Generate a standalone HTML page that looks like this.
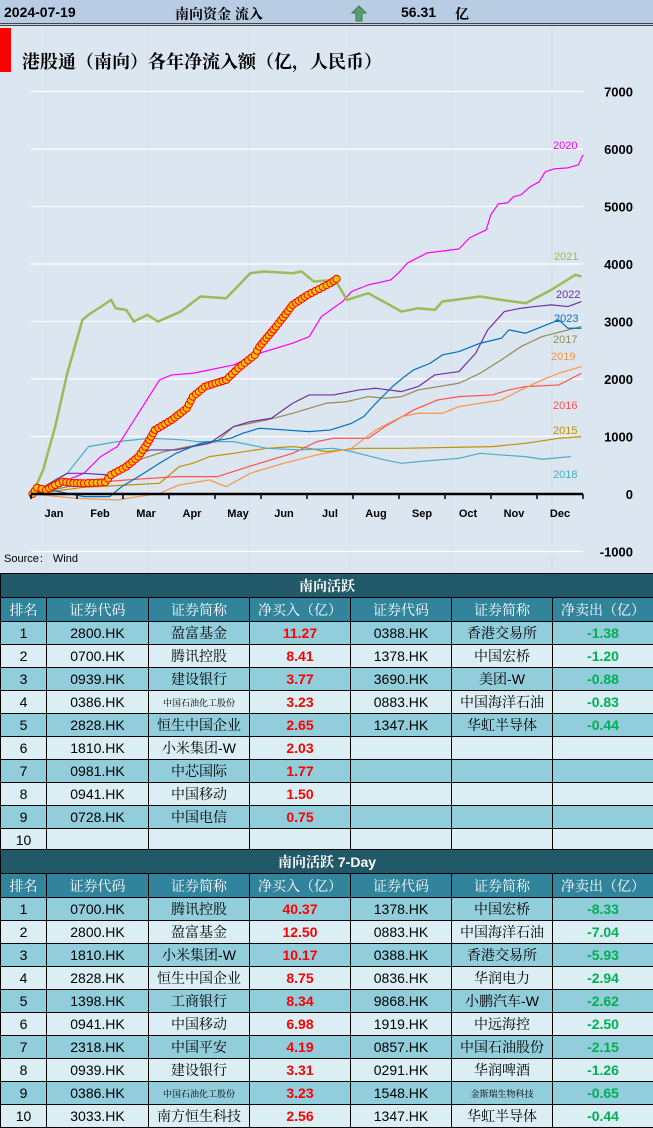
<!DOCTYPE html>
<html><head><meta charset="utf-8">
<style>
*{margin:0;padding:0;box-sizing:border-box}
body{width:653px;height:1128px;overflow:hidden;background:#dce6f1;font-family:"Liberation Sans","Noto Serif CJK SC",serif;position:relative}
#hdr{position:absolute;left:0;top:0;width:653px;height:26px;background:#b8cce4;border-bottom:3px double #444;font-weight:bold;font-size:14px}
#hdr span{position:absolute;top:4px}
#chart{position:absolute;left:0;top:26px}
table{position:absolute;left:0;border-collapse:collapse;width:653px;table-layout:fixed}
td{border:1px solid #000;text-align:center;font-size:14px;height:23px;padding:0;white-space:nowrap;overflow:hidden}
.t td{background:#215968;color:#fff;font-weight:bold;font-size:14px;height:24px}
.h td{background:#31849b;color:#fff;font-size:14px;height:24px}
.d td{background:#92cddc}
.l td{background:#daeef3}
.r{color:#f00;font-weight:bold}
.g{color:#00b050;font-weight:bold}
td.s{font-size:9px}
</style></head><body>
<div id="hdr">
<span style="left:4px">2024-07-19</span>
<span style="left:175px">南向资金 流入</span>
<span style="left:351px;top:5px"><svg width="16" height="17"><path d="M8 1 L15 8 L11 8 L11 16 L5 16 L5 8 L1 8 Z" fill="#5a9e6e" stroke="#3d7a50" stroke-width="1"/></svg></span>
<span style="left:401px">56.31</span>
<span style="left:455px">亿</span>
</div>
<svg id="chart" width="653" height="547" viewBox="0 26 653 547">
<g id="vgrid"></g>
<rect x="0" y="28" width="11" height="44" fill="#f00"/>
<text x="22" y="68" font-size="18" font-weight="bold" font-family="Liberation Sans, Noto Serif CJK SC, serif" fill="#000">港股通（南向）各年净流入额（亿，人民币）</text>
<g id="grid"></g><g id="lines"></g><g id="axis"></g>
<text x="4" y="562" font-size="11" fill="#000">Source： Wind</text>
</svg>

<table style="top:573px">
<colgroup><col style="width:46px"><col style="width:102px"><col style="width:101px"><col style="width:101px"><col style="width:101px"><col style="width:101px"><col style="width:101px"></colgroup>
<tr class="t"><td colspan="7">南向活跃</td></tr>
<tr class="h"><td>排名</td><td>证券代码</td><td>证券简称</td><td>净买入（亿）</td><td>证券代码</td><td>证券简称</td><td>净卖出（亿）</td></tr>
<tr class="d"><td>1</td><td>2800.HK</td><td>盈富基金</td><td class="r">11.27</td><td>0388.HK</td><td>香港交易所</td><td class="g">-1.38</td></tr>
<tr class="l"><td>2</td><td>0700.HK</td><td>腾讯控股</td><td class="r">8.41</td><td>1378.HK</td><td>中国宏桥</td><td class="g">-1.20</td></tr>
<tr class="d"><td>3</td><td>0939.HK</td><td>建设银行</td><td class="r">3.77</td><td>3690.HK</td><td>美团-W</td><td class="g">-0.88</td></tr>
<tr class="l"><td>4</td><td>0386.HK</td><td class="s">中国石油化工股份</td><td class="r">3.23</td><td>0883.HK</td><td>中国海洋石油</td><td class="g">-0.83</td></tr>
<tr class="d"><td>5</td><td>2828.HK</td><td>恒生中国企业</td><td class="r">2.65</td><td>1347.HK</td><td>华虹半导体</td><td class="g">-0.44</td></tr>
<tr class="l"><td>6</td><td>1810.HK</td><td>小米集团-W</td><td class="r">2.03</td><td></td><td></td><td></td></tr>
<tr class="d"><td>7</td><td>0981.HK</td><td>中芯国际</td><td class="r">1.77</td><td></td><td></td><td></td></tr>
<tr class="l"><td>8</td><td>0941.HK</td><td>中国移动</td><td class="r">1.50</td><td></td><td></td><td></td></tr>
<tr class="d"><td>9</td><td>0728.HK</td><td>中国电信</td><td class="r">0.75</td><td></td><td></td><td></td></tr>
<tr class="l"><td>10</td><td></td><td></td><td></td><td></td><td></td><td></td></tr>
</table>

<table style="top:849px">
<colgroup><col style="width:46px"><col style="width:102px"><col style="width:101px"><col style="width:101px"><col style="width:101px"><col style="width:101px"><col style="width:101px"></colgroup>
<tr class="t"><td colspan="7">南向活跃 7-Day</td></tr>
<tr class="h"><td>排名</td><td>证券代码</td><td>证券简称</td><td>净买入（亿）</td><td>证券代码</td><td>证券简称</td><td>净卖出（亿）</td></tr>
<tr class="d"><td>1</td><td>0700.HK</td><td>腾讯控股</td><td class="r">40.37</td><td>1378.HK</td><td>中国宏桥</td><td class="g">-8.33</td></tr>
<tr class="l"><td>2</td><td>2800.HK</td><td>盈富基金</td><td class="r">12.50</td><td>0883.HK</td><td>中国海洋石油</td><td class="g">-7.04</td></tr>
<tr class="d"><td>3</td><td>1810.HK</td><td>小米集团-W</td><td class="r">10.17</td><td>0388.HK</td><td>香港交易所</td><td class="g">-5.93</td></tr>
<tr class="l"><td>4</td><td>2828.HK</td><td>恒生中国企业</td><td class="r">8.75</td><td>0836.HK</td><td>华润电力</td><td class="g">-2.94</td></tr>
<tr class="d"><td>5</td><td>1398.HK</td><td>工商银行</td><td class="r">8.34</td><td>9868.HK</td><td>小鹏汽车-W</td><td class="g">-2.62</td></tr>
<tr class="l"><td>6</td><td>0941.HK</td><td>中国移动</td><td class="r">6.98</td><td>1919.HK</td><td>中远海控</td><td class="g">-2.50</td></tr>
<tr class="d"><td>7</td><td>2318.HK</td><td>中国平安</td><td class="r">4.19</td><td>0857.HK</td><td>中国石油股份</td><td class="g">-2.15</td></tr>
<tr class="l"><td>8</td><td>0939.HK</td><td>建设银行</td><td class="r">3.31</td><td>0291.HK</td><td>华润啤酒</td><td class="g">-1.26</td></tr>
<tr class="d"><td>9</td><td>0386.HK</td><td class="s">中国石油化工股份</td><td class="r">3.23</td><td>1548.HK</td><td class="s">金斯瑞生物科技</td><td class="g">-0.65</td></tr>
<tr class="l"><td>10</td><td>3033.HK</td><td>南方恒生科技</td><td class="r">2.56</td><td>1347.HK</td><td>华虹半导体</td><td class="g">-0.44</td></tr>
</table>

<script>
const months=["Jan","Feb","Mar","Apr","May","Jun","Jul","Aug","Sep","Oct","Nov","Dec"];
const yTicks=[-1000,0,1000,2000,3000,4000,5000,6000,7000];
const d2015=[[1,0],[35,116],[85,186],[98,476],[107,534],[118,650],[134,708],[156,795],[173,824],[184,795],[195,737],[217,795],[245,795],[305,824],[327,882],[349,969],[364,998]];
const d2016=[[1,0],[35,186],[63,244],[96,302],[123,302],[151,534],[173,708],[189,911],[200,969],[223,969],[234,1172],[253,1462],[269,1636],[283,1694],[305,1723],[316,1810],[327,1868],[349,1897],[364,2100]];
const d2017=[[1,0],[35,186],[52,244],[71,592],[88,737],[104,824],[123,911],[134,1172],[156,1288],[173,1404],[195,1578],[209,1607],[223,1694],[234,1665],[245,1694],[256,1810],[283,1926],[297,2100],[311,2332],[324,2564],[338,2738],[355,2854],[364,2912]];
const d2018=[[1,0],[24,360],[38,824],[57,911],[79,969],[101,940],[110,911],[134,911],[156,795],[178,766],[200,795],[212,737],[234,592],[245,534],[256,563],[283,621],[297,708],[311,679],[327,650],[338,604],[357,650]];
const d2019=[[1,0],[30,-75],[57,-104],[85,12],[98,157],[118,244],[129,128],[145,360],[167,534],[189,679],[212,795],[228,1114],[245,1346],[256,1404],[272,1404],[283,1520],[297,1578],[311,1636],[324,1810],[338,1984],[349,2100],[364,2216]];
const d2020=[[1,0],[35,360],[46,650],[57,824],[71,1404],[85,1984],[93,2071],[107,2100],[134,2245],[151,2448],[173,2622],[184,2738],[192,3086],[206,3347],[212,3521],[223,3637],[238,3724],[243,3845],[249,4019],[262,4193],[273,4228],[283,4263],[290,4454],[301,4594],[304,4855],[309,5046],[315,5063],[319,5168],[324,5203],[330,5342],[336,5429],[340,5603],[346,5655],[355,5672],[362,5725],[365,5899]];
const d2021=[[1,0],[8,418],[16,1172],[24,2100],[34,3028],[38,3115],[53,3376],[56,3231],[63,3202],[68,2999],[77,3115],[84,2999],[99,3173],[112,3434],[129,3405],[145,3840],[154,3869],[173,3840],[179,3869],[187,3695],[201,3724],[209,3376],[223,3492],[245,3173],[256,3231],[267,3202],[272,3347],[297,3434],[311,3376],[327,3318],[344,3550],[360,3811],[364,3782]];
const d2022=[[1,0],[16,244],[24,360],[35,360],[52,331],[71,708],[79,766],[96,766],[118,882],[134,1172],[145,1259],[159,1317],[173,1578],[184,1723],[200,1723],[217,1810],[228,1839],[245,1781],[256,1868],[267,2071],[283,2129],[294,2448],[302,2854],[313,3173],[324,3231],[333,3260],[344,3289],[355,3260],[364,3347]];
const d2023=[[1,0],[13,70],[24,12],[35,-46],[52,-46],[60,128],[71,302],[85,534],[96,708],[112,882],[132,969],[140,1056],[151,1143],[168,1114],[184,1085],[198,1114],[212,1230],[220,1346],[228,1578],[239,1868],[247,2042],[253,2158],[264,2274],[272,2419],[283,2477],[297,2622],[311,2709],[316,2854],[327,2796],[338,2912],[349,3028],[355,2883],[364,2883]];
const d2024=[[1,0],[4,110],[10,70],[16,157],[21,214],[28,190],[35,186],[49,203],[53,331],[63,475],[71,649],[77,882],[82,1114],[93,1288],[103,1491],[107,1693],[115,1867],[129,1984],[137,2187],[148,2419],[151,2563],[162,2911],[173,3289],[183,3463],[198,3666],[202,3741]];
const seriesNames=["2015","2016","2017","2018","2019","2020","2021","2022","2023"];
const seriesData=[d2015,d2016,d2017,d2018,d2019,d2020,d2021,d2022,d2023];
const seriesColors=["#bf9000","#ff5050","#948a54","#4bacc6","#f79646","#ff00ff","#9bbb59","#7030a0","#0070c0"];
const labelPos=[[553,434],[553,409],[553,343],[553,478],[551,360],[553,149],[554,260],[556,298],[554,322]];
const NS="http://www.w3.org/2000/svg";
const X=d=>31+d/365*552, Y=v=>494-v*0.0575;
function mk(t,a,p){const e=document.createElementNS(NS,t);for(const k in a)e.setAttribute(k,a[k]);p.appendChild(e);return e;}
const vg=document.getElementById('vgrid');
[46,148,249,350,451,552].forEach(x=>{const l=mk('line',{x1:x,x2:x,y1:26,y2:573,stroke:'#d3dde9','stroke-width':1},vg);

});
const g=document.getElementById('grid');
yTicks.forEach(v=>{
 if(v!==0){const l=mk('line',{x1:31,x2:583,y1:Y(v),y2:Y(v),stroke:'#fff','stroke-width':1.2},g);
 
 }
 const t=mk('text',{x:633,y:Y(v)+5,'text-anchor':'end','font-size':13,'font-weight':'bold',fill:'#000'},g);
 t.textContent=v;
 
 
});
const ax=document.getElementById('axis');
const al=mk('line',{x1:31,x2:583,y1:Y(0),y2:Y(0),stroke:'#000','stroke-width':2.5},ax);


for(let i=0;i<=12;i++){const tk=mk('line',{x1:X(i*365/12),x2:X(i*365/12),y1:Y(0),y2:Y(0)+5,stroke:'#000','stroke-width':1.5},ax);

}
months.forEach((m,i)=>{const t=mk('text',{x:X((i+0.5)*365/12),y:517,'text-anchor':'middle','font-size':11,'font-weight':'bold',fill:'#000'},ax);
t.textContent=m;

});
const lg=document.getElementById('lines');
seriesData.forEach((d,i)=>{
 const p=mk('polyline',{points:d.map(q=>X(q[0])+','+Y(q[1])).join(' '),fill:'none',stroke:seriesColors[i],'stroke-width':seriesNames[i]==="2021"?2.5:1.2,'stroke-linejoin':'round'},lg);
 
 
 const t=mk('text',{x:labelPos[i][0],y:labelPos[i][1],'font-size':11,fill:seriesColors[i]},lg);
 t.textContent=seriesNames[i];
 
 
});
const p24=mk('polyline',{points:d2024.map(q=>X(q[0])+','+Y(q[1])).join(' '),fill:'none',stroke:'#ff0000','stroke-width':3},lg);


for(let i=0;i<d2024.length-1;i++){
 const x1=X(d2024[i][0]),y1=Y(d2024[i][1]),x2=X(d2024[i+1][0]),y2=Y(d2024[i+1][1]);
 const n=Math.max(1,Math.round(Math.hypot(x2-x1,y2-y1)/4));
 for(let k=0;k<n;k++){const c=mk('circle',{cx:x1+(x2-x1)*k/n,cy:y1+(y2-y1)*k/n,r:3.6,fill:'#ffc000',stroke:'#ff0000','stroke-width':1},lg);
 
 }
}
const last=d2024[d2024.length-1];
const lc=mk('circle',{cx:X(last[0]),cy:Y(last[1]),r:3.6,fill:'#ffc000',stroke:'#ff0000','stroke-width':1},lg);


</script>
</body></html>
